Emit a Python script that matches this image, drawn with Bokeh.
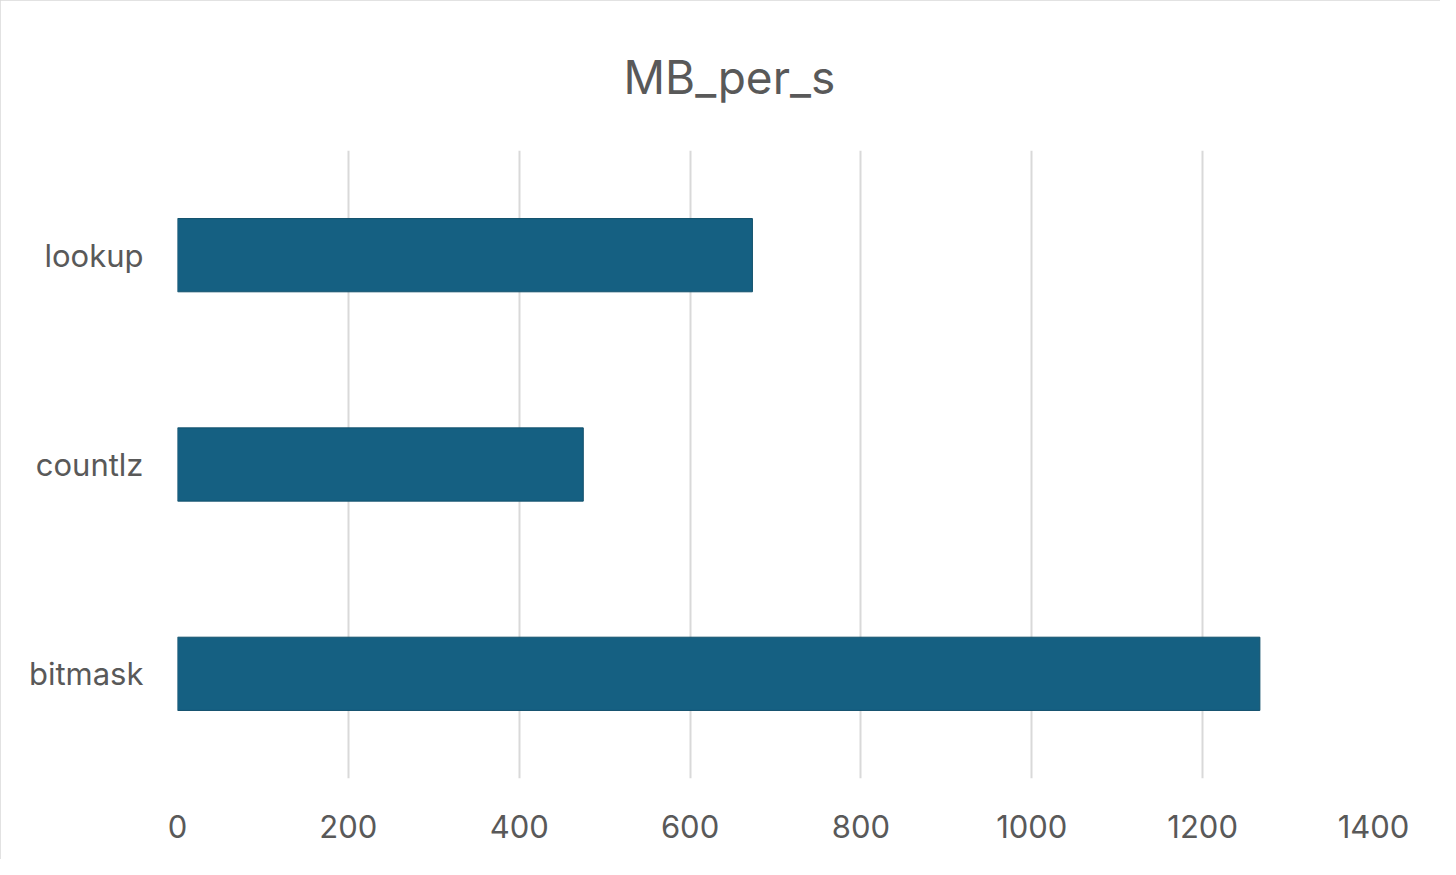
from bokeh.plotting import figure
from bokeh.models import FixedTicker
from bokeh.embed import file_html
from bokeh.resources import INLINE

categories = ["bitmask", "countlz", "lookup"]
values = [1267, 475, 673]
x_ticks = [0, 200, 400, 600, 800, 1000, 1200, 1400]
title_text = "MB_per_s"

FONT = "Inter"
TXT = "#595959"
BAR = "#156082"
GRID = "#d9d9d9"

p = figure(
    y_range=categories, x_range=(0, 1400),
    width=1440, height=859,
    output_backend="svg", toolbar_location=None,
    min_border_left=177, min_border_right=67,
    min_border_top=150, min_border_bottom=81,
    title=title_text,
)
p.title.align = "left"
p.title.text_font = FONT
p.title.text_font_size = "46px"
p.title.text_font_style = "normal"
p.title.text_color = TXT
p.title.standoff = 92
p.title.offset = 446

p.hbar(y=categories, right=values, left=0, height=0.35,
       fill_color=BAR, line_color="#12506c", line_width=1)

p.xaxis.ticker = FixedTicker(ticks=x_ticks)
p.xgrid.ticker = FixedTicker(ticks=x_ticks)
p.xgrid.grid_line_color = GRID
p.xgrid.grid_line_width = 2
p.ygrid.grid_line_color = None
p.outline_line_color = None
for ax in (p.xaxis, p.yaxis):
    ax.axis_line_color = None
    ax.major_tick_line_color = None
    ax.minor_tick_line_color = None
    ax.major_label_text_font = FONT
    ax.major_label_text_font_size = "31px"
    ax.major_label_text_color = TXT
p.xaxis.major_label_standoff = 30
p.yaxis.major_label_standoff = 28

p.styles = {"outline": "3px solid #d9d9d9", "outline-offset": "-3px"}

open("out.html", "w").write(file_html(p, INLINE))
